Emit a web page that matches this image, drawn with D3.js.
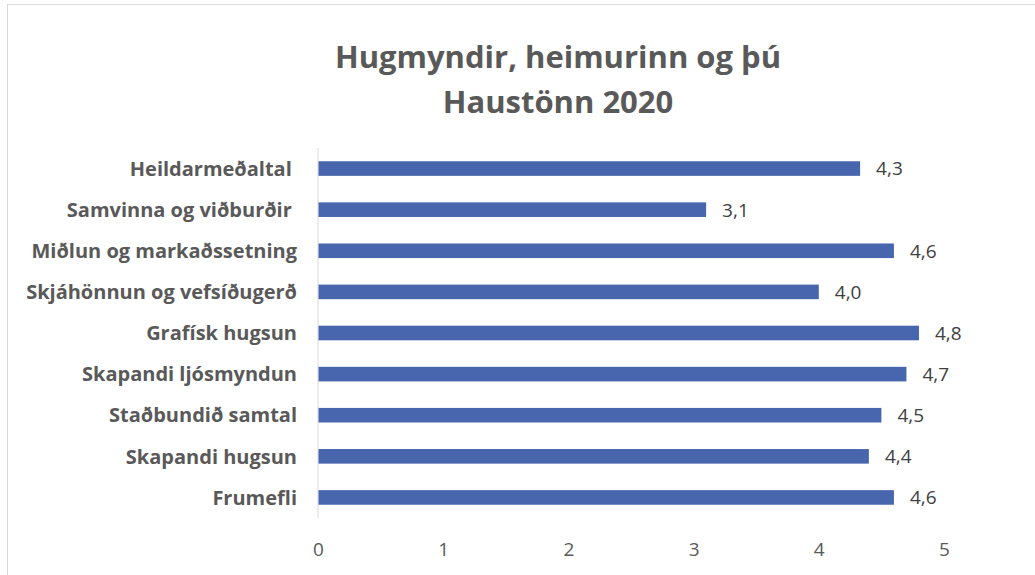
<!DOCTYPE html>
<html>
<head>
<meta charset="utf-8">
<script src="https://cdn.jsdelivr.net/npm/d3@7"></script>
<style>
  body { margin: 0; background: #fff; }
  svg { display: block; }
  text { font-family: "Open Sans", Lato, sans-serif; }
</style>
</head>
<body>
<div id="chart"></div>
<script>
// data, top of the chart first
var categories = [
    "Heildarmeðaltal ",
    "Samvinna og viðburðir ",
    "Miðlun og markaðssetning",
    "Skjáhönnun og vefsíðugerð",
    "Grafísk hugsun",
    "Skapandi ljósmyndun",
    "Staðbundið samtal",
    "Skapandi hugsun",
    "Frumefli"
];
var scores = [4.33, 3.1, 4.6, 4.0, 4.8, 4.7, 4.5, 4.4, 4.6];
var tickValues = [0, 1, 2, 3, 4, 5];
var titleLines = ["Hugmyndir, heimurinn og þú", "Haustönn 2020"];

var width = 1035, height = 575;

var svg = d3.select("#chart").append("svg")
    .attr("width", width)
    .attr("height", height);

/* chart frame */
svg.append("rect")
    .attr("x", 7.5).attr("y", 4.5)
    .attr("width", width).attr("height", height)
    .style("fill", "#fff")
    .style("stroke", "#d9d9d9");

var x = d3.scaleLinear().domain([0, 5]).range([318, 944]);
var y = d3.scaleBand().domain(categories).range([148, 518]).paddingInner(0.645).paddingOuter(0.3225);

/* title */
svg.append("g").selectAll("text")
    .data(titleLines)
    .enter().append("text")
    .attr("x", 558)
    .attr("y", function(d, i) { return 68 + i * 45; })
    .attr("text-anchor", "middle")
    .style("font-size", "31px")
    .style("font-weight", "bold")
    .style("fill", "#595959")
    .text(function(d) { return d; });

/* vertical axis line at zero */
svg.append("line")
    .attr("x1", x(0)).attr("x2", x(0))
    .attr("y1", 148).attr("y2", 518)
    .style("stroke", "#d9d9d9");

var g = svg.append("g");

g.selectAll("rect.bar")
    .data(scores)
    .enter().append("rect")
    .attr("class", "bar")
    .attr("x", x(0) + 0.5)
    .attr("y", function(d, i) { return y(categories[i]); })
    .attr("width", function(d) { return x(d) - x(0) - 0.5; })
    .attr("height", y.bandwidth())
    .style("fill", "#4866ad");

g.selectAll("text.value")
    .data(scores)
    .enter().append("text")
    .attr("class", "value")
    .attr("x", function(d) { return x(d) + 16; })
    .attr("y", function(d, i) { return y(categories[i]) + y.bandwidth() / 2; })
    .attr("dy", "0.36em")
    .style("font-size", "19px")
    .style("fill", "#404040")
    .text(function(d) { return d3.format(".1f")(d).replace(".", ","); });

g.selectAll("text.cat")
    .data(categories)
    .enter().append("text")
    .attr("class", "cat")
    .attr("x", 297)
    .attr("y", function(d) { return y(d) + y.bandwidth() / 2; })
    .attr("dy", "0.36em")
    .attr("text-anchor", "end")
    .style("white-space", "pre")
    .style("font-size", "20px")
    .style("font-weight", "bold")
    .style("fill", "#595959")
    .text(function(d) { return d; });

/* bottom tick labels, no axis line */
var xAxis = d3.axisBottom(x).tickValues(tickValues).tickFormat(d3.format("d")).tickSize(0).tickPadding(0);
var axisG = svg.append("g")
    .attr("transform", "translate(0,542)")
    .call(xAxis);
axisG.select(".domain").remove();
axisG.selectAll("text")
    .attr("dy", "0.71em")
    .style("font-family", "'Open Sans', Lato, sans-serif")
    .style("font-size", "19px")
    .style("fill", "#595959");
</script>
</body>
</html>
